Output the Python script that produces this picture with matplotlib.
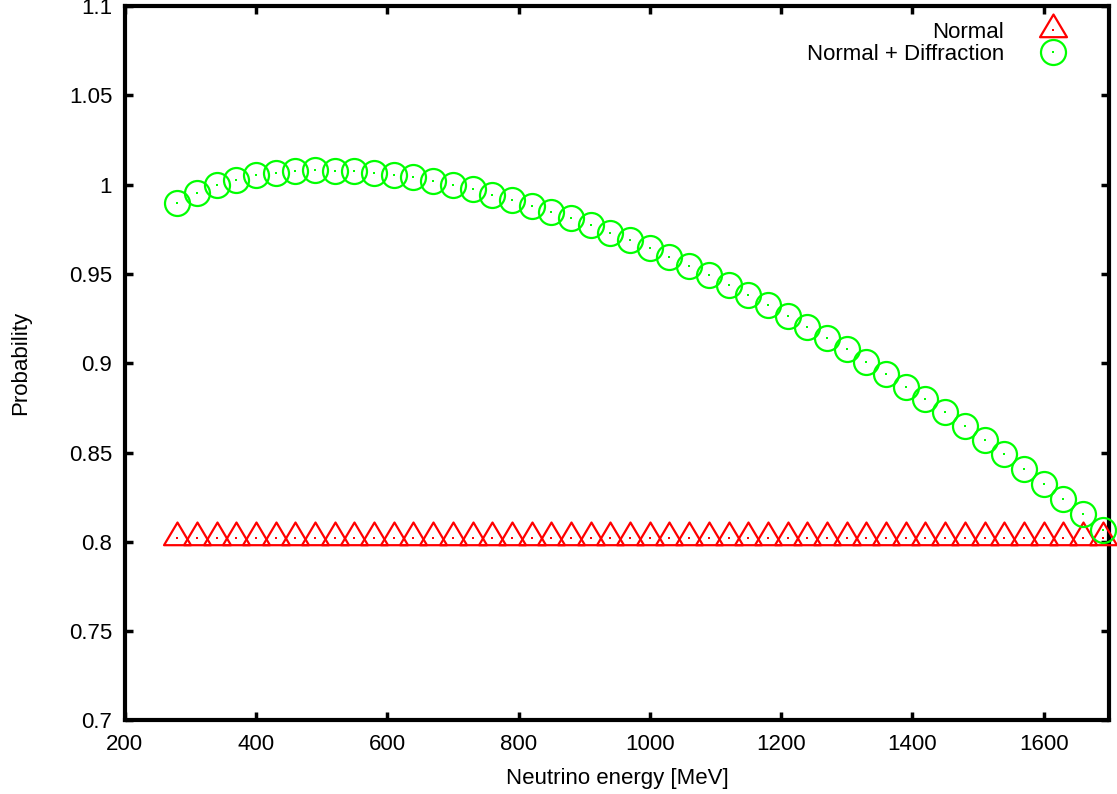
import numpy as np
import matplotlib
matplotlib.use("Agg")
import matplotlib.pyplot as plt
from matplotlib.path import Path
from matplotlib.ticker import FuncFormatter

plt.rcParams['font.family'] = ['Liberation Sans', 'DejaVu Sans']

# neutrino energy [MeV]
energy = [280, 310, 340, 370, 400, 430, 460, 490, 520, 550, 580, 610,
          640, 670, 700, 730, 760, 790, 820, 850, 880, 910, 940, 970,
          1000, 1030, 1060, 1090, 1120, 1150, 1180, 1210, 1240, 1270, 1300, 1330,
          1360, 1390, 1420, 1450, 1480, 1510, 1540, 1570, 1600, 1630, 1660, 1690]

# probability, normal only (flat)
prob_normal = [0.802] * len(energy)

# probability, normal + diffraction
prob_diffr = [0.9900, 0.9952, 0.9997, 1.0026, 1.0053, 1.0067, 1.0075, 1.0082,
              1.0078, 1.0075, 1.0067, 1.0056, 1.0041, 1.0019, 1.0000, 0.9974,
              0.9944, 0.9914, 0.9882, 0.9849, 0.9812, 0.9773, 0.9731, 0.9690,
              0.9643, 0.9594, 0.9545, 0.9494, 0.9440, 0.9384, 0.9326, 0.9267,
              0.9205, 0.9142, 0.9078, 0.9009, 0.8942, 0.8869, 0.8798, 0.8726,
              0.8647, 0.8571, 0.8492, 0.8410, 0.8326, 0.8242, 0.8156, 0.8066]

xticks = [200, 400, 600, 800, 1000, 1200, 1400, 1600]
yticks = [0.7, 0.75, 0.8, 0.85, 0.9, 0.95, 1.0, 1.05, 1.1]

# gnuplot-like triangle: data point sits low inside the triangle
tri = Path([(0, 16), (-13.5, -6.7), (13.5, -6.7), (0, 16), (0, 16)],
           [Path.MOVETO, Path.LINETO, Path.LINETO, Path.LINETO, Path.CLOSEPOLY])

fig = plt.figure(figsize=(11.17, 7.94), dpi=100)
ax = fig.add_axes([0.1116, 0.0926, 0.8815, 0.8998])

red = '#ff0000'
green = '#00ff00'
fs = 16

l1, = ax.plot(energy, prob_normal, linestyle='none', marker=tri, ms=23,
              mfc='none', mec=red, mew=1.6, clip_on=False, zorder=3)
d1, = ax.plot(energy, prob_normal, linestyle='none', marker='s', ms=1.8,
              mfc=red, mec=red, mew=0, clip_on=False, zorder=3)
l2, = ax.plot(energy, prob_diffr, linestyle='none', marker='o', ms=18,
              mfc='none', mec=green, mew=1.6, clip_on=False, zorder=4)
d2, = ax.plot(energy, prob_diffr, linestyle='none', marker='s', ms=1.8,
              mfc=green, mec=green, mew=0, clip_on=False, zorder=4)

ax.set_xlim(200, 1700)
ax.set_ylim(0.7, 1.1)
ax.set_xticks(xticks)
ax.set_yticks(yticks)
ax.yaxis.set_major_formatter(FuncFormatter(lambda v, p: '%g' % v))

ax.tick_params(direction='in', length=6, width=2.5, labelsize=fs,
               top=True, right=True, pad=9)
ax.tick_params(axis='x', pad=10)
for s in ax.spines.values():
    s.set_linewidth(3)

ax.set_xlabel('Neutrino energy [MeV]', fontsize=fs, labelpad=9)
ax.set_ylabel('Probability', fontsize=fs, labelpad=27)

ax.legend([(l1, d1), (l2, d2)], ['Normal', 'Normal + Diffraction'],
          loc='upper right', bbox_to_anchor=(1075.2 / 1117, 1 - 22 / 794),
          bbox_transform=fig.transFigure, frameon=False, markerfirst=False,
          fontsize=fs, borderpad=0, labelspacing=0.05, handletextpad=1.2,
          handlelength=2, borderaxespad=0)

fig.savefig('out.png', dpi=100)
